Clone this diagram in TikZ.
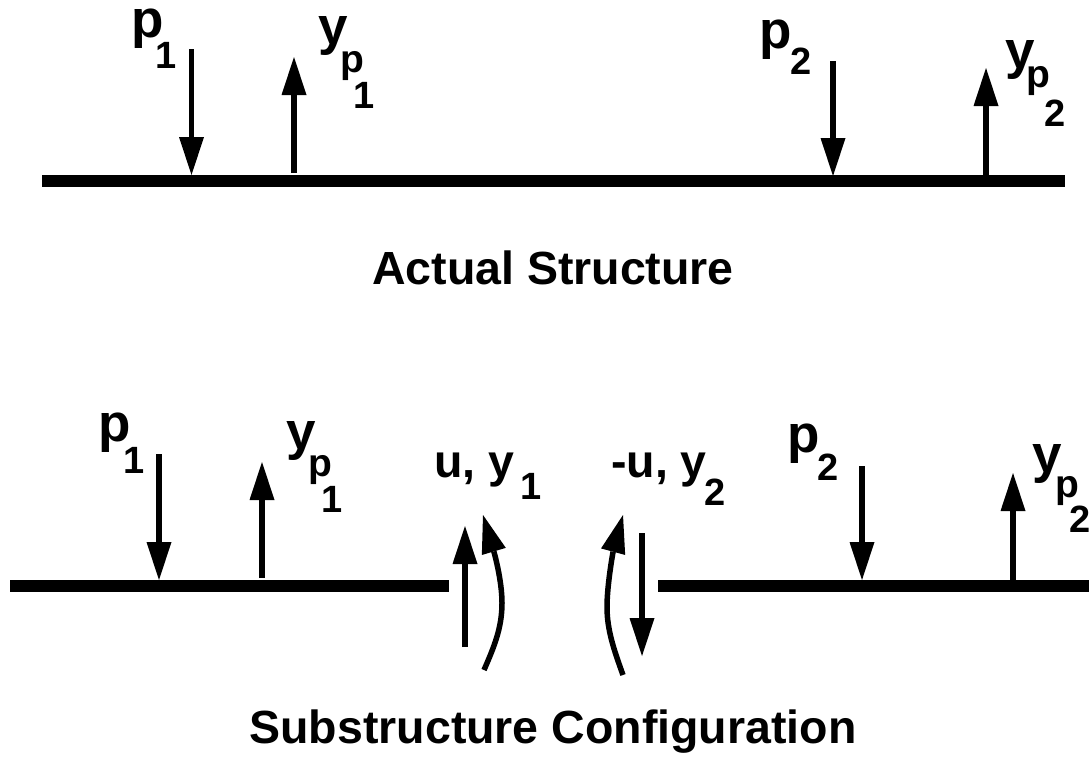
\documentclass[tikz,border=0pt]{standalone}
\usepackage{fontspec}
\setmainfont{Liberation Sans}
\usetikzlibrary{arrows.meta}
\tikzset{
 beam/.style={line width=12pt},
 arr/.style={line width=5.5pt,-{Triangle[length=38pt,width=25pt,line width=0pt]}},
 lab/.style={inner sep=0pt,font=\fontsize{53}{53}\selectfont\bfseries,anchor=base west},
 subp/.style={inner sep=0pt,font=\fontsize{39}{39}\selectfont\bfseries,anchor=base west},
 digit/.style={inner sep=0pt,font=\fontsize{38}{38}\selectfont\bfseries,anchor=base west},
 uy/.style={inner sep=0pt,font=\fontsize{46.5}{46.5}\selectfont\bfseries,anchor=base west},
 capt/.style={inner sep=0pt,font=\fontsize{46.5}{46.5}\selectfont\bfseries,anchor=base},
}
\begin{document}
\begin{tikzpicture}[x=1pt,y=-1pt]
\useasboundingbox (0,0) rectangle (1089,756);
\coordinate (b1l) at (42,181); \coordinate (b1r) at (1065,181);
\draw[beam] (b1l)--(b1r);
\coordinate (a1s) at (191.5,49); \coordinate (a1e) at (191.5,175);
\coordinate (a2s) at (294,173); \coordinate (a2e) at (294,57);
\coordinate (a3s) at (833,61); \coordinate (a3e) at (833,176);
\coordinate (a4s) at (986,176); \coordinate (a4e) at (986,68);
\draw[arr] (a1s)--(a1e); \draw[arr] (a2s)--(a2e); \draw[arr] (a3s)--(a3e); \draw[arr] (a4s)--(a4e);
\node[lab] (p1) at (131,37) {p};
\node[digit] (p1s) at (155,68) {1};
\node[lab] (y1) at (318.5,44) {y};
\node[subp] (y1s) at (340.5,72) {p};
\node[digit] (y1t) at (353,108) {1};
\node[lab] (p2) at (759,48) {p};
\node[digit] (p2s) at (790,74) {2};
\node[lab] (y2) at (1005.5,68) {y};
\node[subp] (y2s) at (1026.5,87) {p};
\node[digit] (y2t) at (1044,126) {2};
\node[capt] (c1) at (553,284) {Actual Structure};
% lower
\coordinate (b2l) at (10,586); \coordinate (b2r) at (449,586);
\coordinate (b3l) at (658,586); \coordinate (b3r) at (1089,586);
\draw[beam] (b2l)--(b2r); \draw[beam] (b3l)--(b3r);
\coordinate (d1s) at (159,454); \coordinate (d1e) at (159,580);
\coordinate (d2s) at (262,578); \coordinate (d2e) at (262,462);
\coordinate (d3s) at (862,466); \coordinate (d3e) at (862,580);
\coordinate (d4s) at (1013,580); \coordinate (d4e) at (1013,473);
\coordinate (d5s) at (465,647); \coordinate (d5e) at (465,526);
\coordinate (d6s) at (642,533); \coordinate (d6e) at (642,656);
\draw[arr] (d1s)--(d1e); \draw[arr] (d2s)--(d2e); \draw[arr] (d3s)--(d3e); \draw[arr] (d4s)--(d4e); \draw[arr] (d5s)--(d5e); \draw[arr] (d6s)--(d6e);
\coordinate (e1s) at (484,670); \coordinate (e1m) at (502,603); \coordinate (e1e) at (483,515);
\coordinate (e2s) at (623,675); \coordinate (e2m) at (607,607); \coordinate (e2e) at (623,515);
\draw[arr] (e1s) .. controls (494,647) and (502,628) .. (e1m) .. controls (502,580) and (494,552) .. (e1e);
\draw[arr] (e2s) .. controls (614,650) and (607,630) .. (e2m) .. controls (607,585) and (613,552) .. (e2e);
\node[lab] (q1) at (98,441) {p};
\node[digit] (q1s) at (123,473) {1};
\node[lab] (z1) at (286.5,449) {y};
\node[subp] (z1s) at (308.5,476) {p};
\node[digit] (z1t) at (321,512) {1};
\node[uy] (uy) at (434,477) {u, y};
\node[digit] (uys) at (520,499) {1};
\node[uy] (muy) at (611,477) {-u, y};
\node[digit] (muys) at (704,505) {2};
\node[lab] (q2) at (787,452) {p};
\node[digit] (q2s) at (817,480) {2};
\node[lab] (z2) at (1032.5,472) {y};
\node[subp] (z2s) at (1055.5,497) {p};
\node[digit] (z2t) at (1069,532) {2};
\node[capt] (c2) at (553,743) {Substructure Configuration};
\end{tikzpicture}
\end{document}
